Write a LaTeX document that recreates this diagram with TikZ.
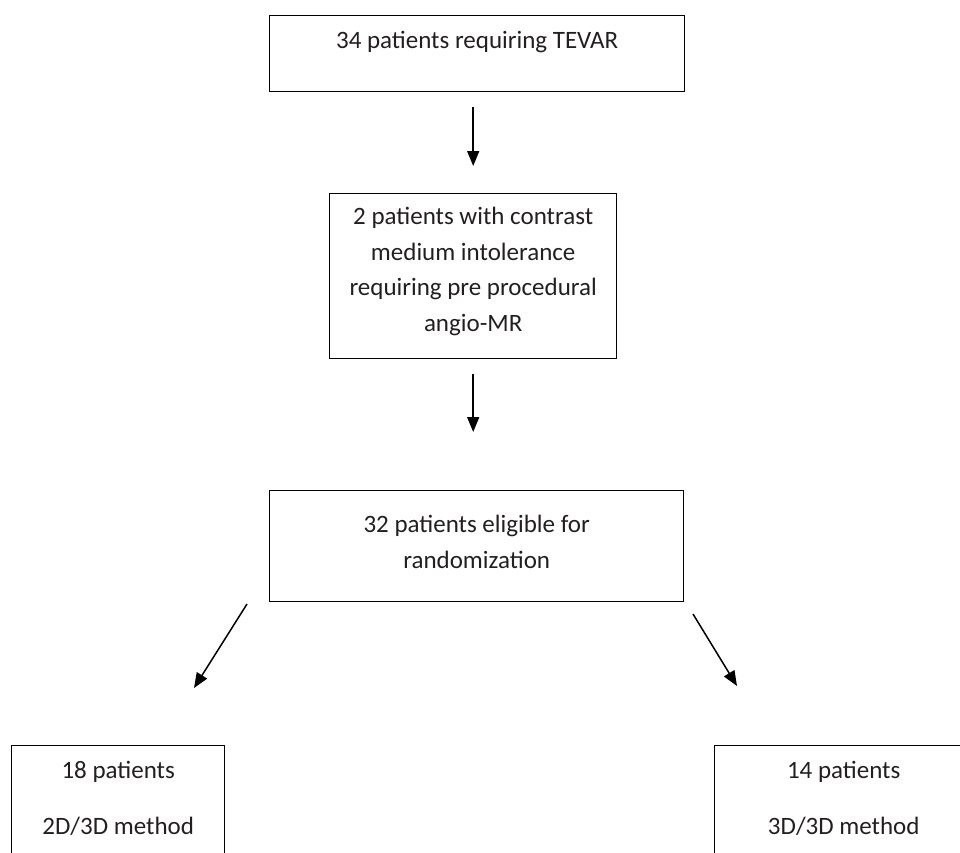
\documentclass[tikz,border=0pt]{standalone}
\usepackage{fontspec}
\setmainfont{Carlito}
\usepackage{tikz}
\usetikzlibrary{arrows.meta}

\definecolor{inkgray}{RGB}{35,31,32}
\tikzset{
  flowbox/.style={draw, line width=1.4pt, inner sep=0pt, anchor=north west},
  flowarrow/.style={line width=1.5pt, -{Triangle[length=15pt,width=12pt]}}
}

\begin{document}
\begin{tikzpicture}[x=1pt, y=-1pt,
  every node/.style={font=\fontsize{25}{35.5}\selectfont, text=inkgray}]
  \useasboundingbox (0,0) rectangle (960,852);
  \node [flowbox] (tevar) at (269,15) {
    \parbox[c][76pt][t]{415pt}{\centering\rule{0pt}{33pt}34 patients requiring TEVAR}
  };
  \node [flowbox] (intol) at (329,193) {
    \parbox[c][165pt][t]{287pt}{\centering\rule{0pt}{31pt}2 patients with contrast\\
      medium intolerance\\ requiring pre procedural\\ angio-MR}
  };
  \node [flowbox] (elig) at (269,490) {
    \parbox[c][111pt][t]{414pt}{\centering\rule{0pt}{42pt}32 patients eligible for\\
      randomization}
  };
  \node [flowbox] (twod) at (11,745) {
    \parbox[c][140pt][t]{213pt}{\centering\rule{0pt}{33pt}18 patients\\[20.5pt]
      2D/3D method}
  };
  \node [flowbox] (threed) at (714,745) {
    \parbox[c][140pt][t]{258pt}{\centering\rule{0pt}{33pt}14 patients\\[20.5pt]
      3D/3D method}
  };
  % free ends of the split arrows
  \coordinate (splitL) at (247,604);
  \coordinate (toL) at (194,688);
  \coordinate (splitR) at (693,614);
  \coordinate (toR) at (737,686);
  \draw [flowarrow, shorten <=15pt, shorten >=27pt] (intol.north |- tevar.south) -- (intol.north);
  \draw [flowarrow, shorten <=15pt, shorten >=58pt] (intol.south) -- (intol.south |- elig.north);
  \draw [flowarrow] (splitL) -- (toL);
  \draw [flowarrow] (splitR) -- (toR);
\end{tikzpicture}
\end{document}
